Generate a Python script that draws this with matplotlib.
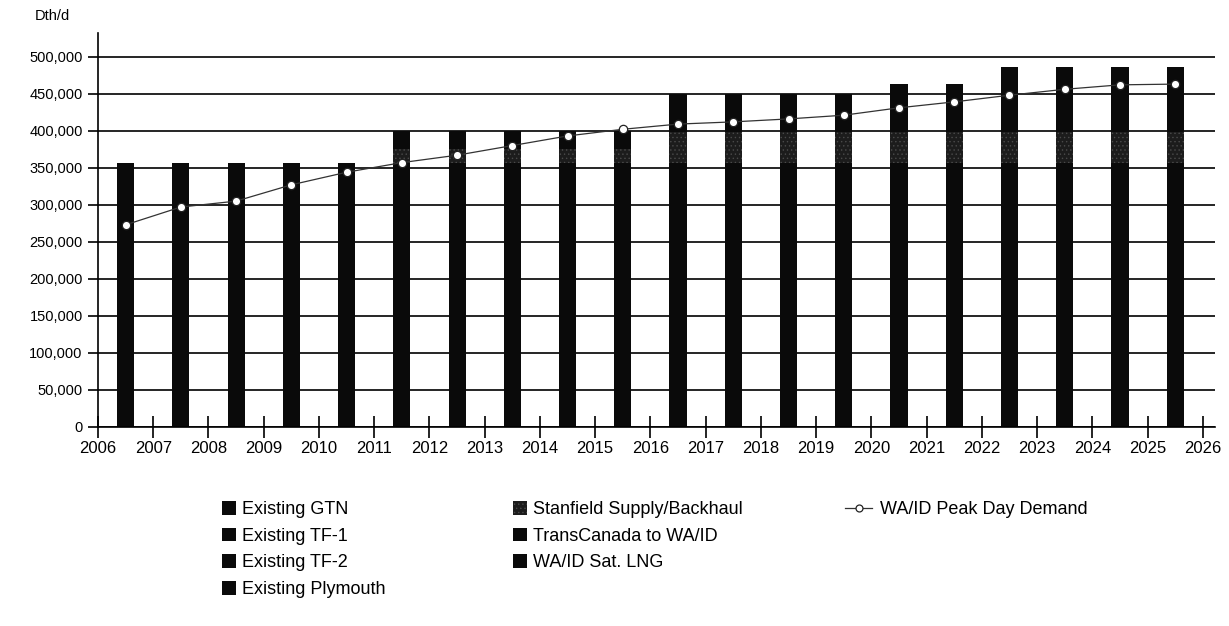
import numpy as np
import matplotlib.pyplot as plt
import matplotlib
from matplotlib.patches import Patch
from matplotlib.lines import Line2D

matplotlib.rcParams['font.family'] = ['Liberation Sans', 'DejaVu Sans']
matplotlib.rcParams['font.size'] = 12
matplotlib.rcParams['hatch.linewidth'] = 0.5

# data (Dth/d), one bar per year, drawn between year ticks
years = list(range(2006, 2026))
gtn = [95000] * 20
tf1 = [178000] * 20
tf2 = [42000] * 20
plymouth = [41000] * 20
stanfield = [0] * 5 + [20000] * 5 + [42000] * 10
transcanada = [0] * 5 + [24000] * 5 + [52000] * 10
sat_lng = [0] * 14 + [13000] * 2 + [36000] * 4
peak_demand = [273000, 297000, 305000, 327000, 344000, 357000, 367000, 380000,
               393000, 402000, 409000, 412000, 416000, 421000, 431000, 439000,
               448000, 456000, 462000, 463000]

series = [
    ('Existing GTN', gtn, '#0a0a0a', None),
    ('Existing TF-1', tf1, '#0a0a0a', None),
    ('Existing TF-2', tf2, '#0a0a0a', None),
    ('Existing Plymouth', plymouth, '#0a0a0a', None),
    ('Stanfield Supply/Backhaul', stanfield, '#1c1c1c', '....'),
    ('TransCanada to WA/ID', transcanada, '#0a0a0a', None),
    ('WA/ID Sat. LNG', sat_lng, '#0a0a0a', None),
]

fig = plt.figure(figsize=(12.29, 6.26), dpi=100)
ax = fig.add_axes([98 / 1229, 1 - 427 / 626, (1215 - 98) / 1229, (427 - 33) / 626])

x = np.array(years) + 0.5
bottom = np.zeros(len(years))
handles = []
for name, vals, col, hatch in series:
    ax.bar(x, vals, width=0.31, bottom=bottom, color=col, hatch=hatch,
           edgecolor='#4a4a4a' if hatch else col, linewidth=0, zorder=2)
    bottom += np.array(vals)
    handles.append(Patch(facecolor=col, hatch=hatch,
                         edgecolor='#4a4a4a' if hatch else col, linewidth=0))

ax.plot(x, peak_demand, '-o', color='#333333', lw=0.9, ms=6,
        mfc='white', mec='#222222', mew=0.9, zorder=3)

ax.set_xlim(2006, 2026.22)
ax.set_ylim(0, 532000)
ax.set_xticks(range(2006, 2027))
ax.set_yticks(range(0, 500001, 50000))
ax.set_yticklabels(['{:,}'.format(v) for v in range(0, 500001, 50000)])
ax.tick_params(axis='x', direction='inout', length=16, width=1.2, pad=2, labelsize=12)
ax.tick_params(axis='y', direction='out', length=7, width=1.2, pad=4, labelsize=10.5)
ax.yaxis.grid(True, color='black', lw=1.2)
ax.set_axisbelow(True)
for s in ['top', 'right']:
    ax.spines[s].set_visible(False)
ax.spines['left'].set_linewidth(1.2)
ax.spines['bottom'].set_linewidth(1.2)

fig.text(35 / 1229, 1 - 16 / 626, 'Dth/d', va='center', ha='left', fontsize=10.5)

leg_kw = dict(frameon=False, loc='upper left', handlelength=0.78, handleheight=0.78,
              handletextpad=0.35, labelspacing=0.53, borderpad=0, borderaxespad=0,
              fontsize=13)
names = [s[0] for s in series]
fig.legend(handles[:4], names[:4], bbox_to_anchor=(222 / 1229, 1 - 501 / 626), **leg_kw)
fig.legend(handles[4:], names[4:], bbox_to_anchor=(513 / 1229, 1 - 501 / 626), **leg_kw)
line_h = Line2D([], [], color='#333333', lw=0.9, marker='o', ms=5,
                mfc='white', mec='#222222', mew=0.9)
fig.legend([line_h], ['WA/ID Peak Day Demand'], bbox_to_anchor=(845 / 1229, 1 - 501 / 626),
           frameon=False, loc='upper left', handlelength=1.5, handletextpad=0.45,
           borderpad=0, borderaxespad=0, fontsize=13)

fig.savefig('out.png', dpi=100)
